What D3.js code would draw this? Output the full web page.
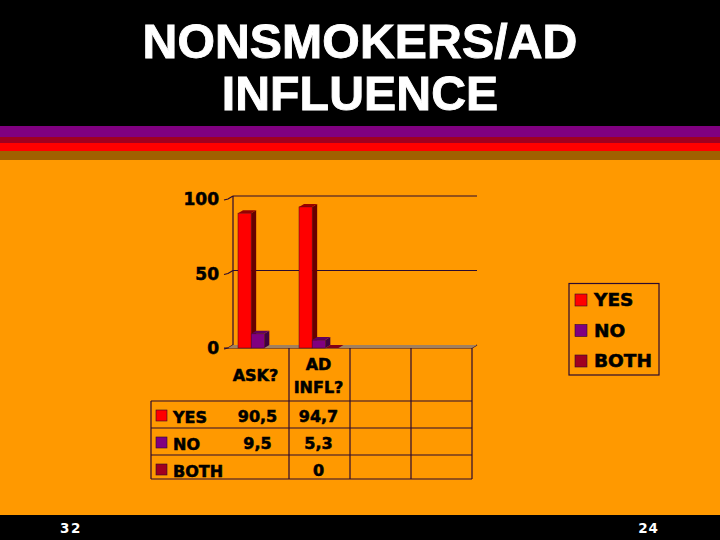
<!DOCTYPE html>
<html><head><meta charset="utf-8">
<script src="https://cdn.jsdelivr.net/npm/d3@7"></script>
<style>html,body{margin:0;padding:0;background:#000}svg{display:block}
text{font-family:"DejaVu Sans",sans-serif;font-weight:bold;fill:#000}
.lab{stroke:#000;stroke-width:0.55px}</style></head>
<body><svg id="c" width="720" height="540"></svg>
<script>
const titleLines = ["NONSMOKERS/AD","INFLUENCE"];
const categories = ["ASK?","AD INFL?","blank1","blank2"];
const categoryLines = [["ASK?"],["AD","INFL?"],[],[]];
const seriesNames = ["YES","NO","BOTH"];
const yes = [90.5,94.7,null,null];
const no = [9.5,5.3,null,null];
const both = [null,0,null,null];
const cellLabels = [["90,5","94,7","",""],["9,5","5,3","",""],["","0","",""]];
const yTicks = [0,50,100];
const footerLeft = "32", footerRight = "24";
const stripes = [["#800080",11],["#A00020",6],["#FF0000",8],["#A06000",9]];
const seriesColors = ["#FF0000","#800080","#A00020"];
const sideColors = ["#660000","#400040","#600010"];
const topColors = ["#990000","#600060","#800018"];
const line = "#2a0a30";

const svg = d3.select("#c");
const values = [yes,no,both];
svg.append("rect").attr("width",720).attr("height",540).attr("fill","#000");
svg.append("rect").attr("y",126).attr("width",720).attr("height",389).attr("fill","#FF9900");
let sy=126;
stripes.forEach(([c,h])=>{svg.append("rect").attr("y",sy).attr("width",720).attr("height",h).attr("fill",c);sy+=h;});
svg.selectAll(".t").data(titleLines).join("text").attr("x",360).attr("y",(d,i)=>58+i*52)
  .attr("text-anchor","middle").style("font-family","Liberation Sans").style("font-size","48.2px").style("fill","#fff").style("stroke","#fff").style("stroke-width","0.9px").style("letter-spacing","0.1px").text(d=>d);

const dx=5, dy=-3;
const x = d3.scaleBand().domain(categories).range([228,472]);
const y = d3.scaleLinear().domain([0,100]).range([348,199]);
const s = d3.scaleBand().domain(seriesNames).range([10,49.5]);
const g = svg.append("g").attr("fill","none").attr("stroke",line).attr("stroke-width",1.2);
yTicks.slice(1).forEach(t=>{
  g.append("path").attr("d",`M${x.range()[0]+dx},${y(t)+dy}H${x.range()[1]+dx}`);
});
g.append("path").attr("d",`M${x.range()[0]+dx},${y(0)+dy}V${y(100)+dy}`);
svg.append("path").attr("fill","#A08060").attr("stroke","none")
  .attr("d",`M228,348L${228+dx},${348+dy}H${472+dx}L472,348Z`);
yTicks.forEach(t=>{
  g.append("path").attr("d",`M224,${y(t)+1}L${228},${y(t)}L${228+dx},${y(t)+dy}`);
  svg.append("text").attr("class","lab").attr("x",219).attr("y",y(t)+6).attr("text-anchor","end").style("font-size","17px").text(t);
});
seriesNames.forEach((n,si)=>{
  const w=s.bandwidth();
  const gg=svg.append("g").attr("stroke","none");
  categories.forEach((c,ci)=>{
    const v=values[si][ci]; if(v===null) return;
    const x0=x(c)+s(n), x1=x0+w, yt=y(v), yb=y(0);
    gg.append("path").attr("fill",sideColors[si]).attr("d",`M${x1},${yt}l${dx},${dy}V${yb+dy}L${x1},${yb}Z`);
    gg.append("path").attr("fill",topColors[si]).attr("d",`M${x0},${yt}l${dx},${dy}h${w}l${-dx},${-dy}Z`);
    if(v>0) gg.append("rect").attr("x",x0).attr("y",yt).attr("width",w).attr("height",yb-yt).attr("fill",seriesColors[si]).attr("stroke","#4a0a20").attr("stroke-width",0.5);
  });
});
g.append("path").attr("d",`M224,348H472L${472+dx},${348+dy}`);
const rowY=[348,401,428,455,479];
const tb=svg.append("g").attr("fill","none").attr("stroke",line).attr("stroke-width",1.2);
x.domain().forEach(c=>tb.append("path").attr("d",`M${x(c)+x.bandwidth()},348V479`));
rowY.slice(1).forEach(r=>tb.append("path").attr("d",`M151,${r}H472`));
tb.append("path").attr("d","M151,401V479");
categories.forEach((c,ci)=>{
  const cx=x(c)+x.bandwidth()/2-1;
  const ls=categoryLines[ci];
  ls.forEach((l,i)=>svg.append("text").attr("class","lab").attr("x",ci===0?cx-2:cx).attr("y",ls.length===1?381:370+i*22.5)
    .attr("text-anchor","middle").style("font-size","16px").text(l));
});
seriesNames.forEach((n,si)=>{
  svg.append("rect").attr("x",156).attr("y",rowY[si+1]+9).attr("width",11).attr("height",11)
    .attr("fill",seriesColors[si]).attr("stroke",line).attr("stroke-width",0.6);
  svg.append("text").attr("class","lab").attr("x",173).attr("y",rowY[si+1]+22).style("font-size","16px").text(n);
  cellLabels[si].forEach((l,ci)=>{
    if(l) svg.append("text").attr("class","lab").attr("x",x(categories[ci])+x.bandwidth()/2-1).attr("y",rowY[si+1]+21)
      .attr("text-anchor","middle").style("font-size","16px").text(l);
  });
});
svg.append("rect").attr("x",569).attr("y",283.5).attr("width",90).attr("height",91.5)
  .attr("fill","none").attr("stroke",line).attr("stroke-width",1.2);
seriesNames.forEach((n,si)=>{
  svg.append("rect").attr("x",575).attr("y",294+si*30.5).attr("width",12).attr("height",12)
    .attr("fill",seriesColors[si]).attr("stroke",line).attr("stroke-width",0.6);
  svg.append("text").attr("class","lab").attr("x",594).attr("y",306+si*30.5).style("font-size","18.5px").text(n);
});
svg.append("text").attr("x",60).attr("y",533).style("font-size","13.5px").style("letter-spacing","1.5px").style("fill","#fff").text(footerLeft);
svg.append("text").attr("x",659).attr("y",533).attr("text-anchor","end").style("font-size","13.5px").style("letter-spacing","1px").style("fill","#fff").text(footerRight);
</script></body></html>
